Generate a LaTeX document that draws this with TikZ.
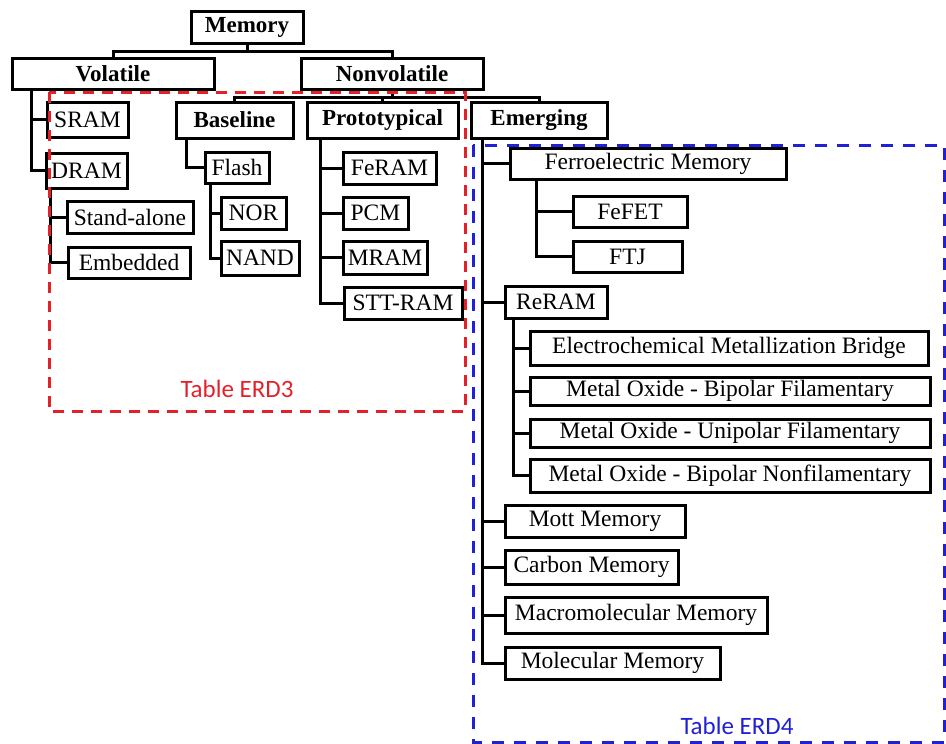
\documentclass[tikz,border=0pt]{standalone}
\usepackage{fontspec}
\setmainfont{Liberation Serif}
\newfontfamily\labelfont{Carlito}
\definecolor{erdred}{RGB}{228,32,40}
\definecolor{erdblue}{RGB}{32,32,215}
\tikzset{
  box/.style={draw=black, line width=3pt, inner sep=0pt, font=\fontsize{23.5}{25}\selectfont},
  head/.style={box, font=\fontsize{23}{25}\selectfont\bfseries},
  link/.style={line width=3pt},
  tablethree/.style={draw=erdred, line width=3pt, dash pattern=on 11pt off 8pt},
  tablefour/.style={draw=erdblue, line width=3pt, dash pattern=on 12pt off 10pt},
  tablelabel/.style={font=\labelfont\fontsize{25}{27}\selectfont}
}
\begin{document}
\begin{tikzpicture}[x=1pt, y=-1pt]
\useasboundingbox (0,0) rectangle (946,744);
% top levels
\node [head, minimum width=112pt, minimum height=32pt] (memory) at (247,27) {Memory};
\node [head, minimum width=202pt, minimum height=31pt] (volatile) at (113,73.5) {Volatile};
\node [head, minimum width=182pt, minimum height=31pt] (nonvolatile) at (392,73.5) {Nonvolatile};
\node [head, minimum width=117pt, minimum height=36pt] (baseline) at (234.5,120) {Baseline};
\node [head, minimum width=151pt, minimum height=36pt] (prototypical) at (382.5,120) {Prototypical};
\node [head, minimum width=136pt, minimum height=36pt] (emerging) at (539,120) {Emerging};
% volatile
\node [box, minimum width=81pt, minimum height=35pt] (sram) at (87.5,119.5) {SRAM};
\node [box, minimum width=81pt, minimum height=35pt] (dram) at (86.5,170.5) {DRAM};
\node [box, minimum width=126pt, minimum height=32pt] (standalone) at (130,217) {Stand-alone};
\node [box, minimum width=122pt, minimum height=31pt] (embedded) at (129,262.5) {Embedded};
% baseline
\node [box, minimum width=64pt, minimum height=31pt] (flash) at (237,167.5) {Flash};
\node [box, minimum width=65pt, minimum height=32pt] (nor) at (253.5,213) {NOR};
\node [box, minimum width=78pt, minimum height=34pt] (nand) at (260,258) {NAND};
% prototypical
\node [box, minimum width=93pt, minimum height=32pt] (feram) at (389.5,168) {FeRAM};
\node [box, minimum width=65pt, minimum height=32pt] (pcm) at (375.5,213) {PCM};
\node [box, minimum width=84pt, minimum height=33pt] (mram) at (385,257.5) {MRAM};
\node [box, minimum width=118pt, minimum height=32pt] (sttram) at (403,303) {STT-RAM};
% emerging
\node [box, minimum width=276pt, minimum height=31pt] (ferro) at (648,163.5) {Ferroelectric Memory};
\node [box, minimum width=114pt, minimum height=31pt] (fefet) at (630,211.5) {FeFET};
\node [box, minimum width=109pt, minimum height=31pt] (ftj) at (627.5,256.5) {FTJ};
\node [box, minimum width=102pt, minimum height=32pt] (reram) at (556,302) {ReRAM};
\node [box, minimum width=398pt, minimum height=34pt] (ecm) at (729,348) {Electrochemical Metallization Bridge};
\node [box, minimum width=400pt, minimum height=28pt] (bipolarfil) at (730,391) {Metal Oxide - Bipolar Filamentary};
\node [box, minimum width=400pt, minimum height=28pt] (unipolarfil) at (730,433) {Metal Oxide - Unipolar Filamentary};
\node [box, minimum width=400pt, minimum height=33pt] (bipolarnonfil) at (730,475.5) {Metal Oxide - Bipolar Nonfilamentary};
\node [box, minimum width=180pt, minimum height=32pt] (mott) at (595,521) {Mott Memory};
\node [box, minimum width=173pt, minimum height=34pt] (carbon) at (591.5,567) {Carbon Memory};
\node [box, minimum width=262pt, minimum height=36pt] (macromol) at (636,615) {Macromolecular Memory};
\node [box, minimum width=215pt, minimum height=32pt] (molecular) at (612.5,663) {Molecular Memory};
% connectors
\foreach \kid in {volatile, nonvolatile}
  \draw [link] (memory.south) -- ++(0,7) -| (\kid.north);
\foreach \kid in {baseline, prototypical, emerging}
  \draw [link] (nonvolatile.south) -- ++(0,7) -| (\kid.north);
\foreach \kid in {sram, dram}
  \draw [link] ([xshift=21pt]volatile.south west) |- (\kid.west);
\foreach \kid in {standalone, embedded}
  \draw [link] ([xshift=6pt]dram.south west) |- (\kid.west);
\draw [link] ([xshift=12pt]baseline.south west) |- (flash.west);
\foreach \kid in {nor, nand}
  \draw [link] ([xshift=7pt]flash.south west) |- (\kid.west);
\foreach \kid in {feram, pcm, mram, sttram}
  \draw [link] ([xshift=15pt]prototypical.south west) |- (\kid.west);
\foreach \kid in {ferro, reram, mott, carbon, macromol, molecular}
  \draw [link] ([xshift=13pt]emerging.south west) |- (\kid.west);
\foreach \kid in {fefet, ftj}
  \draw [link] ([xshift=28pt]ferro.south west) |- (\kid.west);
\foreach \kid in {ecm, bipolarfil, unipolarfil, bipolarnonfil}
  \draw [link] ([xshift=10pt]reram.south west) |- (\kid.west);
% table frames
\draw [tablethree] (49,92) rectangle (465,411);
\node [tablelabel, text=erdred] (erdthree) at (237,389) {Table ERD3};
\draw [tablefour] (473,145) rectangle (944,742);
\node [tablelabel, text=erdblue] (erdfour) at (737,726) {Table ERD4};
\end{tikzpicture}
\end{document}
